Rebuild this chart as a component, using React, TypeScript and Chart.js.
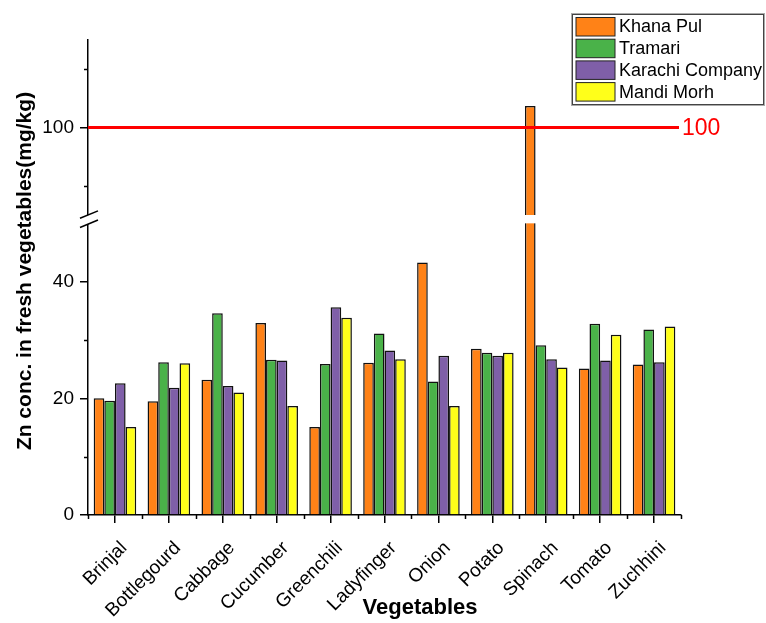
import React, { useEffect, useRef } from 'react';
import { Chart, registerables, LinearScale } from 'chart.js';

Chart.register(...registerables);

const categories = ['Brinjal', 'Bottlegourd', 'Cabbage', 'Cucumber', 'Greenchili', 'Ladyfinger', 'Onion', 'Potato', 'Spinach', 'Tomato', 'Zuchhini'];
const seriesNames = ['Khana Pul', 'Tramari', 'Karachi Company', 'Mandi Morh'];
const khanaPul = [20.0, 19.5, 23.2, 32.9, 15.1, 26.1, 43.3, 28.5, 103.7, 25.1, 25.8];
const tramari = [19.6, 26.2, 34.6, 26.6, 25.9, 31.1, 22.9, 27.8, 29.1, 32.8, 31.8];
const karachiCompany = [22.6, 21.8, 22.1, 26.5, 35.6, 28.2, 27.3, 27.3, 26.7, 26.5, 26.2];
const mandiMorh = [15.1, 26.0, 21.0, 18.7, 33.8, 26.7, 18.7, 27.8, 25.3, 30.9, 32.3];
const seriesColors = ['#FF8217', '#4AB249', '#7F5FA8', '#FFFF1A'];

const majorTicks = [0, 20, 40, 100];
const minorTicks = [10, 30, 90, 110];
const lowerRange = [0, 50];
const upperRange = [85, 115];
const breakGapUnits = 1.43;
const limitValue = 100;
const limitLabel = '100';

const yTitle = 'Zn conc. in fresh vegetables(mg/kg)';
const xTitle = 'Vegetables';

const FONT = "'Liberation Sans', Arial, sans-serif";

const allSeries = [khanaPul, tramari, karachiCompany, mandiMorh];

const lowSpan = lowerRange[1] - lowerRange[0];
const highSpan = upperRange[1] - upperRange[0];
const totalUnits = lowSpan + breakGapUnits + highSpan;

class BrokenLinearScale extends LinearScale {
  static id = 'brokenLinear';
  static defaults = LinearScale.defaults;
  getPixelForValue(value: number) {
    const unit = ((this as any).bottom - (this as any).top) / totalUnits;
    let u: number;
    if (value <= lowerRange[1]) u = value - lowerRange[0];
    else if (value >= upperRange[0]) u = lowSpan + breakGapUnits + (value - upperRange[0]);
    else u = lowSpan + ((value - lowerRange[1]) / (upperRange[0] - lowerRange[1])) * breakGapUnits;
    return (this as any).bottom - u * unit;
  }
  getValueForPixel(pixel: number) {
    const unit = ((this as any).bottom - (this as any).top) / totalUnits;
    const u = ((this as any).bottom - pixel) / unit;
    if (u <= lowSpan) return lowerRange[0] + u;
    if (u >= lowSpan + breakGapUnits) return upperRange[0] + (u - lowSpan - breakGapUnits);
    return lowerRange[1] + ((u - lowSpan) / breakGapUnits) * (upperRange[0] - lowerRange[1]);
  }
}
Chart.register(BrokenLinearScale as any);

const decorPlugin = {
  id: 'decor',
  afterDraw(chart: any) {
    const ctx = chart.ctx;
    const { left, right } = chart.chartArea;
    const y = chart.scales.y;
    const x = chart.scales.x;
    ctx.save();
    const line = (x1: number, y1: number, x2: number, y2: number) => {
      ctx.beginPath();
      ctx.moveTo(x1, y1);
      ctx.lineTo(x2, y2);
      ctx.stroke();
    };
    // minor ticks
    ctx.strokeStyle = '#000';
    ctx.lineWidth = 1.5;
    minorTicks.forEach((v) => {
      const p = Math.round(y.getPixelForValue(v)) + 0.5;
      line(left - 4, p, left, p);
    });
    const axisY = x.top;
    for (let i = 0; i <= categories.length; i++) {
      const p = Math.round(x.getPixelForValue(i - 0.5)) + 0.5;
      line(p, axisY, p, axisY + 4);
    }
    // axis break: white band through the plot and the break marks
    const pLow = y.getPixelForValue(lowerRange[1]);
    const pHigh = y.getPixelForValue(upperRange[0]);
    ctx.fillStyle = '#fff';
    ctx.fillRect(left + 1, pHigh, right - left - 1, pLow - pHigh);
    const c = (pLow + pHigh) / 2;
    const hw = 9;
    const hs = 3.7;
    const off = 4.6;
    const cx = left + 1;
    ctx.beginPath();
    ctx.moveTo(cx - hw, c - off + hs);
    ctx.lineTo(cx + hw, c - off - hs);
    ctx.lineTo(cx + hw, c + off - hs);
    ctx.lineTo(cx - hw, c + off + hs);
    ctx.closePath();
    ctx.fill();
    ctx.lineWidth = 1.5;
    line(cx - hw, c - off + hs, cx + hw, c - off - hs);
    line(cx - hw, c + off + hs, cx + hw, c + off - hs);

    // limit line
    const pl = y.getPixelForValue(limitValue);
    ctx.strokeStyle = '#FF0000';
    ctx.lineWidth = 3;
    line(left, pl, right - 2, pl);
    ctx.fillStyle = '#FF0000';
    ctx.font = `23px ${FONT}`;
    ctx.textAlign = 'left';
    ctx.textBaseline = 'middle';
    ctx.fillText(limitLabel, right + 1, pl + 1);

    // legend
    const lx = 572.5, ly = 14.5, lw = 191, lh = 90;
    ctx.strokeStyle = '#444';
    ctx.lineWidth = 1;
    ctx.strokeRect(lx, ly, lw, lh);
    ctx.strokeStyle = '#aaa';
    ctx.strokeRect(lx - 1, ly - 1, lw + 2, lh + 2);
    ctx.font = `18px ${FONT}`;
    ctx.textAlign = 'left';
    ctx.textBaseline = 'middle';
    seriesNames.forEach((name, i) => {
      const sy = 17.5 + i * 21.7;
      ctx.fillStyle = seriesColors[i];
      ctx.fillRect(576, sy, 39, 18.5);
      ctx.strokeStyle = '#222';
      ctx.lineWidth = 1;
      ctx.strokeRect(576, sy, 39, 18.5);
      ctx.fillStyle = '#000';
      ctx.fillText(name, 619, sy + 10);
    });

    // titles
    ctx.fillStyle = '#000';
    ctx.font = `bold 21px ${FONT}`;
    ctx.textAlign = 'center';
    ctx.textBaseline = 'middle';
    ctx.save();
    ctx.translate(25, 271);
    ctx.rotate(-Math.PI / 2);
    ctx.fillText(yTitle, 0, 0);
    ctx.restore();
    ctx.font = `bold 22px ${FONT}`;
    ctx.fillText(xTitle, 420, 608);
    ctx.restore();
  },
};

export default function App() {
  const ref = useRef<HTMLCanvasElement | null>(null);
  useEffect(() => {
    if (!ref.current) return;
    const datasets = allSeries.map((vals, i) => ({
      label: seriesNames[i],
      data: vals,
      backgroundColor: seriesColors[i],
      borderColor: '#111',
      borderWidth: 1.5,
      categoryPercentage: 0.79,
      barPercentage: 1.0,
    }));
    const chart = new Chart(ref.current, {
      type: 'bar',
      data: { labels: categories, datasets },
      options: {
        animation: false,
        responsive: false,
        maintainAspectRatio: false,
        layout: { padding: { left: 0, top: 40, right: 85, bottom: 0 } },
        plugins: { legend: { display: false }, tooltip: { enabled: false }, title: { display: false } },
        scales: {
          x: {
            type: 'category',
            offset: true,
            grid: { display: true, drawOnChartArea: false, drawTicks: true, tickLength: 8, offset: false, color: '#000', lineWidth: 1.5 },
            border: { display: true, color: '#000', width: 1.5 },
            ticks: { autoSkip: false, maxRotation: 45, minRotation: 45, color: '#000', font: { family: FONT, size: 19 }, padding: 14, labelOffset: 9 },
            afterFit: (s: any) => { s.height = 108; },
          },
          y: {
            type: 'brokenLinear',
            position: 'left',
            min: lowerRange[0],
            max: upperRange[1],
            grid: { display: true, drawOnChartArea: false, drawTicks: true, tickLength: 8, color: '#000', lineWidth: 1.5 },
            border: { display: true, color: '#000', width: 1.5 },
            ticks: { color: '#000', font: { family: FONT, size: 19 }, padding: 6 },
            afterBuildTicks: (s: any) => { s.ticks = majorTicks.map((v) => ({ value: v })); },
            afterFit: (s: any) => { s.width = 88; },
          },
        },
      } as any,
      plugins: [decorPlugin],
    });
    return () => chart.destroy();
  }, []);
  return (
    <div style={{ position: 'absolute', left: 0, top: 0, width: 766, height: 623, background: '#fff' }}>
      <canvas ref={ref} width={766} height={623} style={{ display: 'block' }} />
    </div>
  );
}
